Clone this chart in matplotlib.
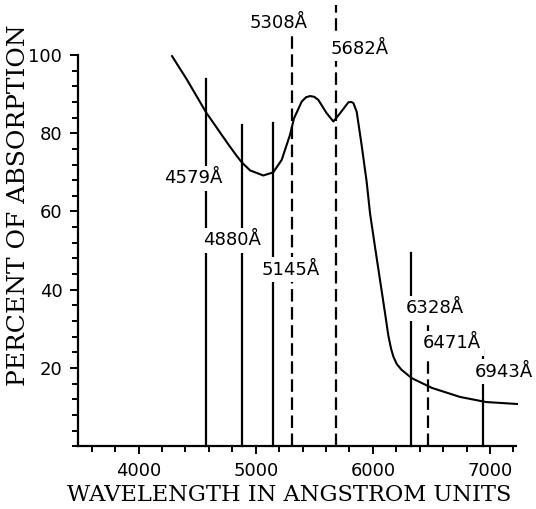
import matplotlib
matplotlib.use("Agg")
import matplotlib.pyplot as plt
from matplotlib.ticker import MultipleLocator

plt.rcParams['lines.scale_dashes'] = False

# absorption curve
wavelength = [4286, 4411, 4579, 4640, 4700, 4770, 4838, 4880, 4952, 5065, 5150,
              5222, 5293, 5327, 5393, 5430, 5464, 5500, 5535, 5606, 5663, 5720,
              5791, 5815, 5834, 5862, 5904, 5947, 5976, 6018, 6061, 6104, 6132,
              6155, 6175, 6204, 6246, 6332, 6505, 6744, 6966, 7230]
absorption = [99.7, 93.8, 85.2, 82.6, 80.0, 77.0, 74.2, 72.6, 70.5, 69.2, 70.0,
              73.2, 79.6, 83.8, 88.1, 89.2, 89.5, 89.3, 88.5, 85.1, 83.0, 85.1,
              87.9, 88.0, 87.7, 85.5, 77.0, 67.6, 59.5, 51.0, 42.5, 34.0, 28.3,
              25.0, 22.9, 21.0, 19.5, 17.4, 14.9, 12.6, 11.3, 10.8]

# laser lines
laser_wl = [4579, 4880, 5145, 5308, 5682, 6328, 6471, 6943]
laser_top = [93.9, 82.1, 82.6, 105.6, 112.8, 49.4, 32.7, 24.6]
laser_dashed = [False, False, False, True, True, False, True, False]

# label placement (x centre, baseline)
label_x = [4468, 4795, 5300, 5195, 5890, 6530, 6673, 7118]
label_y = [67.2, 51.4, 43.8, 106.8, 100.3, 34.0, 25.0, 17.8]

fig = plt.figure(figsize=(5.36, 5.09), dpi=100)
ax = fig.add_axes([0.1448, 0.1233, 0.8175, 0.7687])

for w, top, dashed in zip(laser_wl, laser_top, laser_dashed):
    if dashed:
        ax.plot([w, w], [0, top], color='black', lw=1.6, dashes=(9, 4),
                clip_on=False, zorder=1)
    else:
        ax.plot([w, w], [0, top], color='black', lw=1.6, clip_on=False, zorder=1)

ax.plot(wavelength, absorption, color='black', lw=1.5, zorder=2,
        solid_joinstyle='round', clip_on=False)

for w, lx, ly in zip(laser_wl, label_x, label_y):
    ax.text(lx, ly, f"{w}Å", ha='center', va='baseline', fontsize=13,
            family='DejaVu Sans', zorder=3, clip_on=False,
            bbox=dict(facecolor='white', edgecolor='none', pad=2.5))

ax.set_xlim(3480, 7220)
ax.set_ylim(0, 100)
ax.set_xticks([4000, 5000, 6000, 7000])
ax.set_yticks([20, 40, 60, 80, 100])
ax.xaxis.set_minor_locator(MultipleLocator(200))
ax.yaxis.set_minor_locator(MultipleLocator(4))
ax.tick_params(which='major', direction='out', length=6, width=1.4,
               labelsize=13, pad=5)
ax.tick_params(which='minor', direction='out', length=4.5, width=1.4)

for side in ['top', 'right']:
    ax.spines[side].set_visible(False)
for side in ['left', 'bottom']:
    ax.spines[side].set_linewidth(1.6)

ax.set_xlabel('WAVELENGTH IN ANGSTROM UNITS', family='DejaVu Serif', fontsize=16.2)
ax.set_ylabel('PERCENT OF ABSORPTION', family='DejaVu Serif', fontsize=18)
ax.xaxis.set_label_coords(0.482, -0.125)
ax.yaxis.set_label_coords(-0.134, 0.617)
ax.xaxis.label.set_va('center')
ax.yaxis.label.set_va('center')

fig.savefig('out.png', dpi=100)
